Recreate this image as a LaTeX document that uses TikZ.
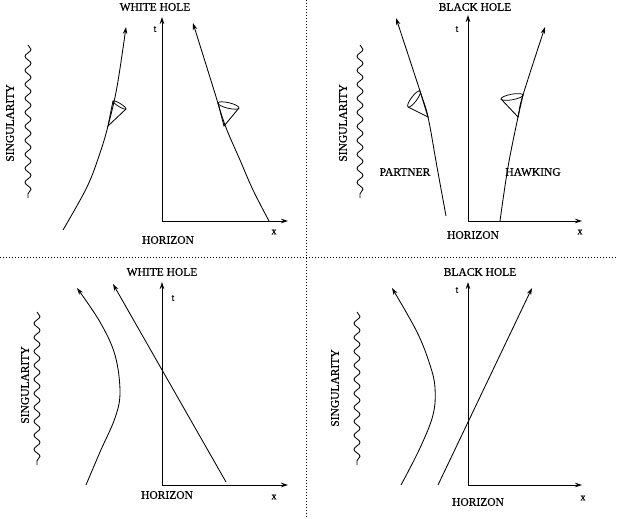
\documentclass[tikz,border=0pt]{standalone}
\usepackage{fontspec}
\setmainfont{Liberation Serif}
\newfontfamily\heavyserif{Liberation Serif}[FakeBold=0.6]
\usetikzlibrary{arrows.meta,decorations.pathmorphing}
\begin{document}
\begin{tikzpicture}[x=1pt,y=-1pt,line width=0.85pt,
  lbl/.style={font=\heavyserif\fontsize{11.5}{13}\selectfont,inner sep=0pt},
  small/.style={font=\heavyserif\fontsize{10}{12}\selectfont,inner sep=0pt},
  arr/.style={-{Stealth[length=7pt,width=4.5pt]}},
  sing/.style={decorate,decoration={snake,segment length=14pt,amplitude=3pt}},
  sep/.style={line width=0.9pt,dash pattern=on 1.2pt off 1.8pt},
  mouth/.style={line width=0.75pt}]
\useasboundingbox (0,0) rectangle (618,519);

% separators
\coordinate (vtop) at (306,0); \coordinate (vbot) at (306,519);
\coordinate (hl) at (0,257); \coordinate (hr) at (618,257);
\draw[sep] (vtop) -- (vbot);
\draw[sep] (hl) -- (hr);

% ---------- top left: white hole ----------
\coordinate (o1) at (162,221);
\coordinate (t1) at (162,17);
\coordinate (x1) at (288,221);
\draw[arr] (o1) -- (t1);
\draw[arr] (o1) -- (x1);
\node[small] (lt1) at (155,29) {t};
\node[small] (lx1) at (274,232) {x};
\node[lbl] (title1) at (155,7) {WHITE HOLE};
\node[lbl] (hor1) at (168,240) {HORIZON};
\node[lbl,rotate=90] (sing1) at (10,123) {SINGULARITY};
\draw[sing] (28,45) -- (28,198);
\draw[arr] plot[smooth,tension=0.6] coordinates {(63,230) (87,187) (100,153) (108,126) (117,87) (126,27)};
\draw[arr] plot[smooth,tension=0.6] coordinates {(269,221) (253,190) (240,160) (225,125) (213,87) (193,23)};
% light cones
\draw (113,101) -- (108,126) -- (126,109);
\draw[mouth,shift={(119.5,105)},rotate=-31.6] (0,0) ellipse (7.6 and 1.6);
\draw (218,103) -- (224,126) -- (239,108);
\draw[mouth,shift={(228.5,105.5)},rotate=-13.4] (0,0) ellipse (10.8 and 2.8);

% ---------- top right: black hole ----------
\coordinate (o2) at (468,221);
\coordinate (t2) at (468,15);
\coordinate (x2) at (582,221);
\draw[arr] (o2) -- (t2);
\draw[arr] (o2) -- (x2);
\node[small] (lt2) at (457,29) {t};
\node[small] (lx2) at (580,232) {x};
\node[lbl] (title2) at (475,7) {BLACK HOLE};
\node[lbl] (hor2) at (473,235) {HORIZON};
\node[lbl,rotate=90] (sing2) at (343,123) {SINGULARITY};
\draw[sing] (360,45) -- (360,198);
\draw[arr] plot[smooth,tension=0.6] coordinates {(446,216) (437,167) (428,117) (420,91) (396,18)};
\draw[arr] plot[smooth,tension=0.6] coordinates {(500,221) (508,167) (518,117) (523,95) (545,27)};
\node[lbl] (partner) at (405,172) {PARTNER};
\node[lbl] (hawking) at (533,172) {HAWKING};
\draw (408,107) -- (428,117) -- (420,91);
\draw[mouth,shift={(414,99)},rotate=53.1] (0,0) ellipse (10 and 2.8);
\draw (501,99) -- (518,117) -- (523,95);
\draw[mouth,shift={(512,97)},rotate=10.3] (0,0) ellipse (11.2 and 2.8);

% ---------- bottom left: white hole ----------
\coordinate (o3) at (162,485);
\coordinate (t3) at (162,282);
\coordinate (x3) at (288,485);
\draw[arr] (o3) -- (t3);
\draw[arr] (o3) -- (x3);
\node[small] (lt3) at (173,298) {t};
\node[small] (lx3) at (274,497) {x};
\node[lbl] (title3) at (162,272) {WHITE HOLE};
\node[lbl] (hor3) at (167,495) {HORIZON};
\node[lbl,rotate=90] (sing3) at (25,385) {SINGULARITY};
\draw[sing] (37,312) -- (37,465);
\draw[arr] plot[smooth,tension=0.6] coordinates {(86,485) (100,452) (115,418) (120,392) (115,355) (100,322) (77,288)};
\coordinate (s3a) at (226,482); \coordinate (s3b) at (113,284);
\draw[arr] (s3a) -- (s3b);

% ---------- bottom right: black hole ----------
\coordinate (o4) at (468,485);
\coordinate (t4) at (468,282);
\coordinate (x4) at (582,485);
\draw[arr] (o4) -- (t4);
\draw[arr] (o4) -- (x4);
\node[small] (lt4) at (457,290) {t};
\node[small] (lx4) at (583,498) {x};
\node[lbl] (title4) at (480,272) {BLACK HOLE};
\node[lbl] (hor4) at (478,502) {HORIZON};
\node[lbl,rotate=90] (sing4) at (335,388) {SINGULARITY};
\draw[sing] (357,312) -- (357,465);
\draw[arr] plot[smooth,tension=0.6] coordinates {(401,485) (420,448) (433,415) (435,388) (430,365) (417,332) (392,288)};
\coordinate (s4a) at (438,485); \coordinate (s4b) at (532,288);
\draw[arr] (s4a) -- (s4b);
\end{tikzpicture}
\end{document}
